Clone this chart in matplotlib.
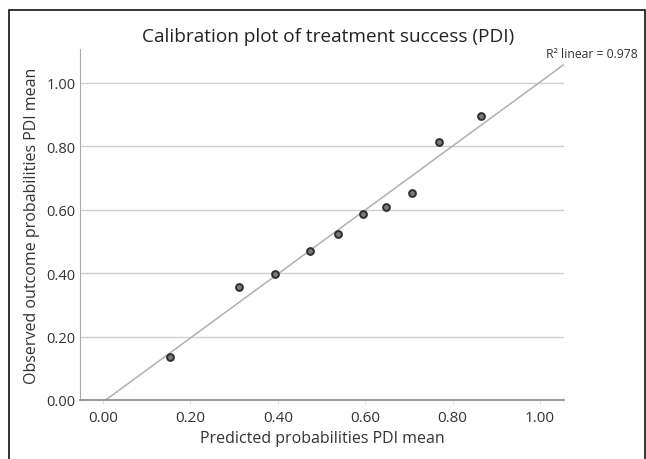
import matplotlib
matplotlib.use("Agg")
import matplotlib.pyplot as plt
import numpy as np
from matplotlib.patches import Rectangle

plt.rcParams['font.family'] = ['Open Sans', 'DejaVu Sans']

predicted = [0.153, 0.311, 0.394, 0.474, 0.538, 0.596, 0.648, 0.706, 0.770, 0.864]
observed = [0.135, 0.357, 0.397, 0.470, 0.523, 0.586, 0.609, 0.652, 0.815, 0.897]
xticks = [0.0, 0.2, 0.4, 0.6, 0.8, 1.0]
yticks = [0.0, 0.2, 0.4, 0.6, 0.8, 1.0]
title = "Calibration plot of treatment success (PDI)"
r2_label = "R² linear = 0.978"

fig = plt.figure(figsize=(6.46, 4.60), dpi=100)
ax = fig.add_axes([0.1238, 0.1283, 0.873 - 0.1238, 0.8913 - 0.1283])

xmin, xmax = -0.053, 1.055
ymin, ymax = 0.0, 1.107
ax.set_xlim(xmin, xmax)
ax.set_ylim(ymin, ymax)

for y in yticks[1:]:
    ax.axhline(y, color='#cfcfcf', lw=1.0, zorder=1)

slope, intercept = np.polyfit(predicted, observed, 1)
x0 = max(xmin, (ymin - intercept) / slope)
x1 = min(xmax, (ymax - intercept) / slope)
xs = np.array([x0, x1])
ax.plot(xs, slope * xs + intercept, color='#b5b5b5', lw=1.2, zorder=2)

ax.scatter(predicted, observed, s=24, facecolor='#7a7a7a', edgecolor='#2e2e2e',
           linewidths=1.4, zorder=3)

ax.set_xticks(xticks)
ax.set_yticks(yticks)
ax.set_xticklabels([f"{t:.2f}" for t in xticks], fontsize=11, color='#333333')
ax.set_yticklabels([f"{t:.2f}" for t in yticks], fontsize=10.5, color='#333333')
ax.tick_params(axis='x', length=3, color='#e0e0e0', pad=4)
ax.tick_params(axis='y', length=0, pad=3)

for s in ['top', 'right']:
    ax.spines[s].set_visible(False)
ax.spines['left'].set_color('#aaaaaa')
ax.spines['bottom'].set_color('#888888')
ax.spines['bottom'].set_linewidth(1.2)

ax.set_xlabel("Predicted probabilities PDI mean", fontsize=11.5, color='#333333', labelpad=4)
ax.set_ylabel("Observed outcome probabilities PDI mean", fontsize=11.5, color='#333333', labelpad=5)

fig.text(328 / 646, 1 - 37 / 460, title, ha='center', va='center', fontsize=13.7, color='#222222')
fig.text(638 / 646, 1 - 55 / 460, r2_label, ha='right', va='center', fontsize=8.8, color='#333333')

fig.patches.append(Rectangle((9 / 646, -0.01), (645 - 9) / 646, 1 - 11 / 460 + 0.01,
                             transform=fig.transFigure, fill=False, edgecolor='#111111',
                             lw=1.2, zorder=0))

fig.savefig("out.png", dpi=100)
